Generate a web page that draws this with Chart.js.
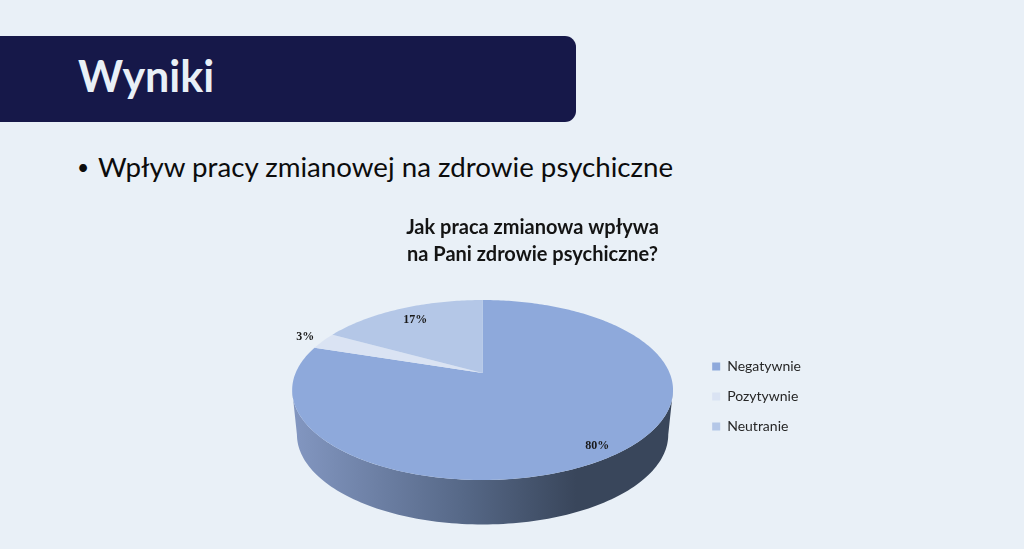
<!DOCTYPE html>
<html lang="pl">
<head>
<meta charset="utf-8">
<title>Wyniki</title>
<script src="https://cdn.jsdelivr.net/npm/chart.js@4"></script>
<style>
  html, body { margin: 0; padding: 0; }
  body { width: 1024px; height: 549px; overflow: hidden; background: #e9f0f7; position: relative; font-family: Lato, sans-serif; }
  .banner { position: absolute; left: 0; top: 36px; width: 576px; height: 86px; background: #161849; border-radius: 0 11px 11px 0; }
  .banner h1 { position: absolute; left: 78px; top: 13px; margin: 0; font-size: 43px; line-height: 54px; font-weight: 700; color: #e9f0f7; }
  .point { position: absolute; left: 98px; top: 150px; margin: 0; font-size: 27.7px; line-height: 34px; color: #0c0c0c; white-space: nowrap; }
  .point span { position: absolute; left: -21px; top: 0; font-size: 21px; }
  .box { position: absolute; left: 254px; top: 205px; width: 557px; height: 335px; }
</style>
</head>
<body>
<div class="banner"><h1>Wyniki</h1></div>
<p class="point"><span>•</span>Wpływ pracy zmianowej na zdrowie psychiczne</p>
<div class="box"><canvas id="pie"></canvas></div>
<script>
const categories = ['Negatywnie', 'Pozytywnie', 'Neutranie'];
const shares = [80, 3, 17];
const sliceColors = ['#8ea9db', '#dae3f3', '#b4c7e7'];
const chartTitle = ['Jak praca zmianowa wpływa', 'na Pani zdrowie psychiczne?'];

// how far out each % label sits, as a fraction of the radius
const labelReach = [0.9, 1.12, 0.8];

// fake 3D: the flat pie is projected on a tilted plane
const tilt = {
    persp: 0.189,     // far side shrinks, near side grows
    squash: 0.464,    // vertical / horizontal scale
    lift: 23.5,       // apex sits above the legend's centre line
    shift: 7.5,       // pie is not centred under the title
    depth: 44.5,      // wall height
    bottomScale: 0.975
};

function project(arc, a, reach) {
    const u = Math.cos(a) * reach;
    const v = -Math.sin(a) * reach;
    const d = 1 + tilt.persp * v;
    return {
        x: arc.x + tilt.shift + arc.outerRadius * u / d,
        y: arc.y - tilt.lift - arc.outerRadius * tilt.squash * v / d
    };
}

function drawWall(ctx, arc) {
    const a0 = Math.asin(tilt.persp);
    const a1 = Math.PI - a0;
    const steps = 120;
    const cx = arc.x + tilt.shift;
    const grad = ctx.createLinearGradient(cx - arc.outerRadius, 0, cx + arc.outerRadius, 0);
    grad.addColorStop(0, '#8296c0');
    grad.addColorStop(0.45, '#566887');
    grad.addColorStop(0.75, '#39465b');
    grad.addColorStop(1, '#39465b');
    ctx.beginPath();
    for (let i = 0; i <= steps; i++) {
        const p = project(arc, a0 + (a1 - a0) * i / steps, 1);
        ctx.lineTo(p.x, p.y);
    }
    for (let i = steps; i >= 0; i--) {
        const p = project(arc, a0 + (a1 - a0) * i / steps, 1);
        ctx.lineTo(cx + (p.x - cx) * tilt.bottomScale, p.y + tilt.depth);
    }
    ctx.closePath();
    ctx.fillStyle = grad;
    ctx.fill();
}

function drawSlice(ctx, arc, color) {
    const steps = Math.max(8, Math.ceil((arc.endAngle - arc.startAngle) * 60));
    const apex = project(arc, 0, 0);
    ctx.beginPath();
    ctx.moveTo(apex.x, apex.y);
    for (let i = 0; i <= steps; i++) {
        const a = arc.startAngle + (arc.endAngle - arc.startAngle) * i / steps;
        const p = project(arc, a, 1);
        ctx.lineTo(p.x, p.y);
    }
    ctx.closePath();
    ctx.fillStyle = color;
    ctx.fill();
}

const tiltedPie = {
    id: 'tiltedPie',
    beforeDatasetDraw(chart) {
        const ctx = chart.ctx;
        const arcs = chart.getDatasetMeta(0).data;
        ctx.save();
        drawWall(ctx, arcs[0]);
        arcs.forEach((arc, i) => drawSlice(ctx, arc, sliceColors[i]));
        ctx.font = 'bold 12px "Liberation Serif"';
        ctx.fillStyle = '#1a1a1a';
        ctx.textAlign = 'center';
        ctx.textBaseline = 'middle';
        arcs.forEach((arc, i) => {
            const mid = (arc.startAngle + arc.endAngle) / 2;
            const p = project(arc, mid, labelReach[i]);
            ctx.fillText(shares[i] + '%', p.x, p.y);
        });
        ctx.restore();
        return false;
    }
};

new Chart(document.getElementById('pie'), {
    type: 'pie',
    data: {
        labels: categories,
        datasets: [{ data: shares, backgroundColor: sliceColors, borderWidth: 0 }]
    },
    options: {
        responsive: true,
        maintainAspectRatio: false,
        animation: false,
        radius: 187,
        layout: { padding: { bottom: 20 } },
        plugins: {
            title: {
                display: true,
                text: chartTitle,
                color: '#141414',
                font: { family: 'Lato', size: 20, weight: 'bold', lineHeight: 1.35 },
                padding: { top: 9, bottom: 5 }
            },
            legend: {
                position: 'right',
                fullSize: false,
                labels: {
                    color: '#262626',
                    font: { family: 'Lato', size: 14 },
                    boxWidth: 8,
                    boxHeight: 8,
                    padding: 16
                }
            },
            tooltip: { enabled: false }
        }
    },
    plugins: [tiltedPie]
});
</script>
</body>
</html>
